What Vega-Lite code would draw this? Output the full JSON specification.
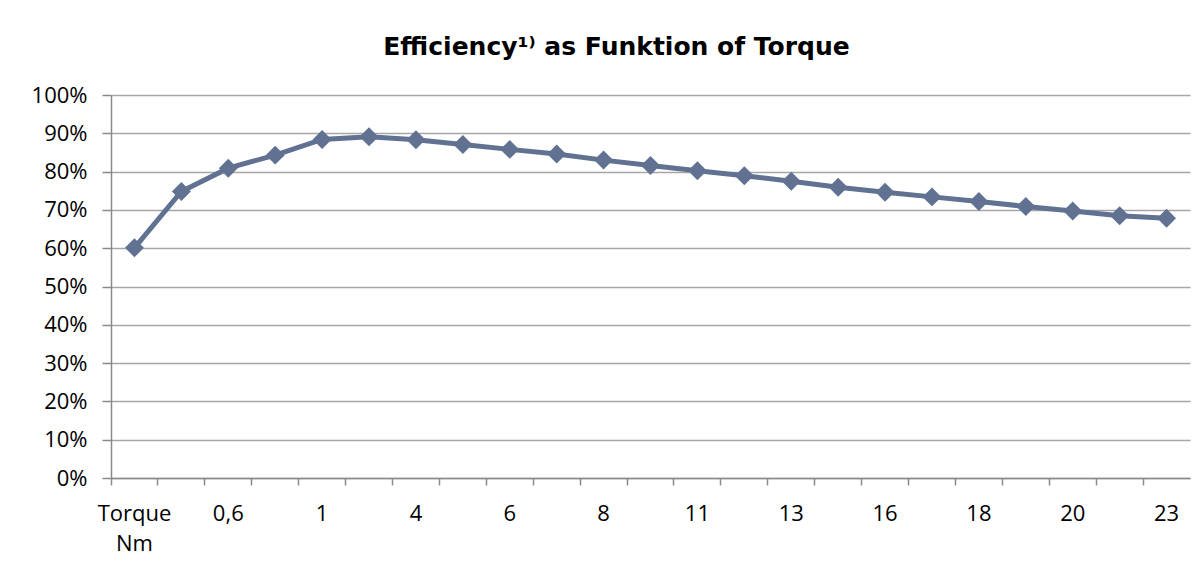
{
  "$schema": "https://vega.github.io/schema/vega-lite/v6.json",
  "width": 1079,
  "height": 383,
  "autosize": {"type": "none"},
  "padding": {"left": 111, "top": 95, "right": 7, "bottom": 97},
  "background": "white",
  "title": {
    "text": "Efficiency¹⁾ as Funktion of Torque",
    "font": "DejaVu Sans",
    "fontSize": 25,
    "fontWeight": "bold",
    "color": "#000000",
    "anchor": "middle",
    "dx": -34,
    "offset": 24
  },
  "config": {
    "view": {"stroke": null},
    "axis": {
      "labelFont": "Open Sans",
      "labelFontSize": 22,
      "labelColor": "#000000",
      "domainColor": "#8a8a8a",
      "tickColor": "#8a8a8a",
      "gridColor": "#a6a6a6",
      "domainWidth": 1.5,
      "tickWidth": 1.5,
      "gridWidth": 1.5,
      "title": null
    }
  },
  "data": {
    "values": [
      {"torque": "Torque Nm", "eff": 0.601},
      {"torque": "0,3", "eff": 0.748},
      {"torque": "0,6", "eff": 0.809},
      {"torque": "0,8", "eff": 0.843},
      {"torque": "1", "eff": 0.884},
      {"torque": "2", "eff": 0.891},
      {"torque": "4", "eff": 0.883},
      {"torque": "5", "eff": 0.871},
      {"torque": "6", "eff": 0.858},
      {"torque": "7", "eff": 0.846},
      {"torque": "8", "eff": 0.830},
      {"torque": "10", "eff": 0.816},
      {"torque": "11", "eff": 0.802},
      {"torque": "12", "eff": 0.789},
      {"torque": "13", "eff": 0.775},
      {"torque": "15", "eff": 0.759},
      {"torque": "16", "eff": 0.746},
      {"torque": "17", "eff": 0.734},
      {"torque": "18", "eff": 0.722},
      {"torque": "19", "eff": 0.709},
      {"torque": "20", "eff": 0.697},
      {"torque": "22", "eff": 0.685},
      {"torque": "23", "eff": 0.678}
    ]
  },
  "mark": {
    "type": "line",
    "color": "#617192",
    "strokeWidth": 5,
    "point": {"shape": "diamond", "size": 360, "filled": true, "color": "#617192", "opacity": 1}
  },
  "encoding": {
    "x": {
      "field": "torque",
      "type": "ordinal",
      "sort": null,
      "scale": {"type": "band", "paddingInner": 0, "paddingOuter": 0},
      "axis": {
        "labelAngle": 0,
        "bandPosition": 0,
        "tickSize": 7,
        "labelPadding": 18,
        "labelBaseline": "top",
        "labelLineHeight": 30,
        "labelOverlap": false,
        "labelExpr": "indexof(['0,3','0,8','2','5','7','10','12','15','17','19','22'], datum.value) >= 0 ? '' : (datum.value == 'Torque Nm' ? ['Torque', 'Nm'] : datum.value)",
        "grid": false
      }
    },
    "y": {
      "field": "eff",
      "type": "quantitative",
      "scale": {"domain": [0, 1], "nice": false},
      "axis": {
        "format": ".0%",
        "values": [0, 0.1, 0.2, 0.3, 0.4, 0.5, 0.6, 0.7, 0.8, 0.9, 1],
        "tickSize": 9,
        "labelPadding": 15,
        "grid": true
      }
    }
  }
}
